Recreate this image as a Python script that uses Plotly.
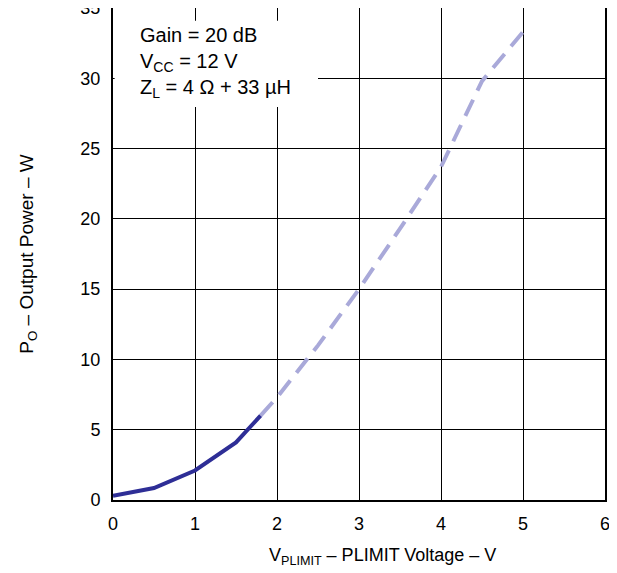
import plotly.graph_objects as go

solid_x = [0, 0.5, 1.0, 1.5, 1.8]
solid_y = [0.3, 0.85, 2.1, 4.1, 6.0]
dash_x = [1.8, 2.0, 2.5, 3.0, 3.5, 4.0, 4.5, 5.0]
dash_y = [6.0, 7.3, 11.0, 15.0, 19.3, 23.7, 29.8, 33.3]
x_ticks = [0, 1, 2, 3, 4, 5, 6]
y_ticks = [0, 5, 10, 15, 20, 25, 30, 35]

FONT = "Liberation Sans, Arial, sans-serif"

fig = go.Figure()
fig.add_trace(go.Scatter(x=dash_x, y=dash_y, mode="lines",
                         line=dict(color="#a9a9d9", width=4, dash="18px,10px"),
                         showlegend=False))
fig.add_trace(go.Scatter(x=solid_x, y=solid_y, mode="lines",
                         line=dict(color="#2e2e96", width=4),
                         showlegend=False))

fig.add_shape(type="rect", xref="x", yref="y", x0=0.02, x1=2.5, y0=27.95, y1=34.1,
              fillcolor="white", line=dict(width=0), layer="between")
fig.add_annotation(xref="x", yref="y", x=0.3, y=34.0, xanchor="left", yanchor="top",
                   align="left", showarrow=False,
                   text="Gain = 20 dB<br>V<sub>CC</sub> = 12 V<br>Z<sub>L</sub> = 4 Ω + 33 µH",
                   font=dict(family=FONT, size=20, color="black"))

# x-axis title as annotation (slightly right of centre, as in the reference)
fig.add_annotation(xref="paper", yref="paper", x=0.547, y=0, yshift=-56,
                   xanchor="center", yanchor="middle", showarrow=False,
                   text="V<sub>PLIMIT</sub> – PLIMIT Voltage – V",
                   font=dict(family=FONT, size=18, color="black"))

axis_common = dict(showgrid=True, gridcolor="black", gridwidth=1,
                   showline=True, linecolor="black", linewidth=2, mirror=True,
                   zeroline=False, ticks="", ticklabeloverflow="allow",
                   tickfont=dict(family=FONT, size=18, color="black"))

fig.update_xaxes(range=[0, 6], tickvals=x_ticks, ticklabelstandoff=6, **axis_common)
fig.update_yaxes(range=[0, 35], tickvals=y_ticks, ticklabelstandoff=7, **axis_common,
                 title=dict(text="P<sub>O</sub> – Output Power – W",
                            font=dict(family=FONT, size=19, color="black"), standoff=42))

fig.update_layout(width=609, height=565, margin=dict(l=105, r=12, t=0, b=73, autoexpand=False),
                  plot_bgcolor="white", paper_bgcolor="white")

fig.write_html("out.html")
